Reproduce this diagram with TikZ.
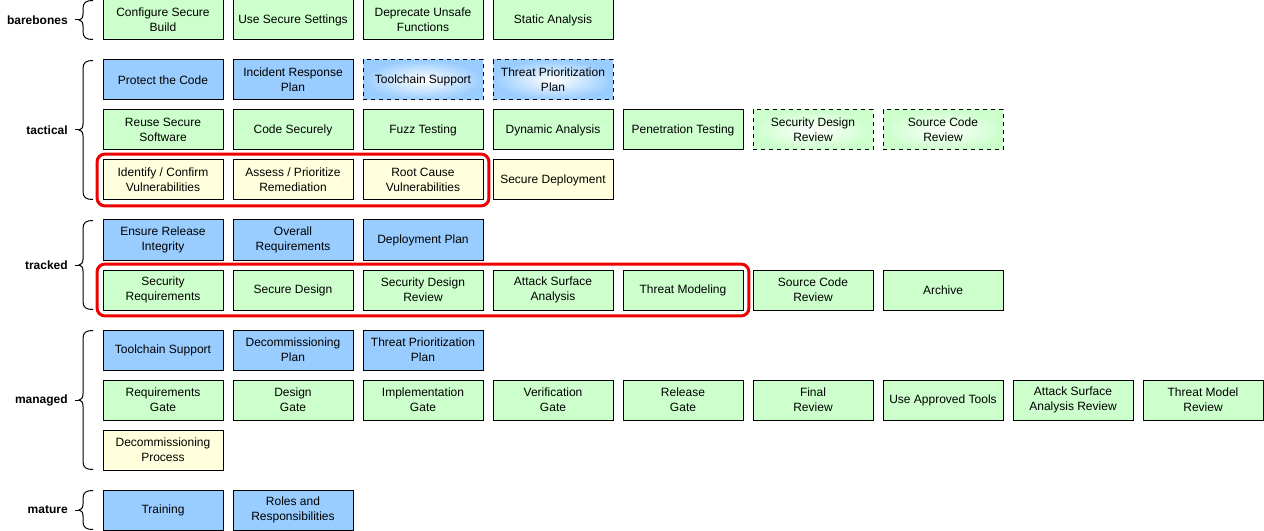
\documentclass[tikz,border=0pt]{standalone}
\usepackage{fontspec}
\setmainfont{Liberation Sans}
\usetikzlibrary{fit}
\definecolor{gfill}{HTML}{CCFFCC}
\definecolor{bfill}{HTML}{99CCFF}
\definecolor{yfill}{HTML}{FFFFDD}
\definecolor{redline}{HTML}{EE0000}
\tikzset{
  x=0.75pt, y=-0.75pt,
  task/.style={draw=black, line width=0.75pt, minimum width=90pt, minimum height=30pt,
    inner sep=0pt, align=center, font=\fontsize{9}{11.25}\selectfont},
  green/.style={task, fill=gfill},
  blue/.style={task, fill=bfill},
  yellow/.style={task, fill=yfill},
  bluegrad/.style={task, dashed, inner color=white, outer color=bfill},
  greengrad/.style={task, dashed, inner color=white, outer color=gfill},
  level/.style={anchor=east, inner xsep=5.25pt, inner ysep=0pt, font=\fontsize{9}{11.25}\selectfont\bfseries},
  bracket/.style={draw=black, line width=0.75pt},
  group/.style={draw=redline, line width=2.25pt, rounded corners=6pt, inner sep=4.1pt},
}
% curly bracket spanning #1..#2 with its point at #3
\newcommand\curly[3]{%
  \draw[bracket] (93,#1) .. controls (86,#1) and (83,#1+2) .. (83,#1+8) -- (83,#3-6)
    .. controls (83,#3-2) and (81,#3) .. (79,#3)
    .. controls (81,#3) and (83,#3+2) .. (83,#3+6) -- (83,#2-8)
    .. controls (83,#2-2) and (86,#2) .. (93,#2);}
\begin{document}
\begin{tikzpicture}
\useasboundingbox (0,0) rectangle (1264,531);

% level labels, brackets and their ticks
\node[level] (lbare) at (75,20) {barebones};
\node[level] (ltact) at (75,130) {tactical};
\node[level] (ltrack) at (75,265) {tracked};
\node[level] (lman) at (75,400) {managed};
\node[level] (lmat) at (75,510) {mature};
\curly{0.5}{39.5}{20}
\curly{60.5}{199.5}{130}
\curly{220.5}{309.5}{265}
\curly{330.5}{469.5}{400}
\curly{490.5}{529.5}{510}
\coordinate (tbare) at (80,20);
\coordinate (ttact) at (80,130);
\coordinate (ttrack) at (80,265);
\coordinate (tman) at (80,400);
\coordinate (tmat) at (80,510);
\draw[bracket] (lbare.east) -- (tbare);
\draw[bracket] (ltact.east) -- (ttact);
\draw[bracket] (ltrack.east) -- (ttrack);
\draw[bracket] (lman.east) -- (tman);
\draw[bracket] (lmat.east) -- (tmat);

% barebones
\node[green] (b1) at (163,20) {Configure Secure\\Build};
\node[green] (b2) at (293,20) {Use Secure Settings};
\node[green] (b3) at (423,20) {Deprecate Unsafe\\Functions};
\node[green] (b4) at (553,20) {Static Analysis};

% tactical
\node[blue] (ta1) at (163,80) {Protect the Code};
\node[blue] (ta2) at (293,80) {Incident Response\\Plan};
\node[bluegrad] (ta3) at (423,80) {Toolchain Support};
\node[bluegrad] (ta4) at (553,80) {Threat Prioritization\\Plan};

\node[green] (tb1) at (163,130) {Reuse Secure\\Software};
\node[green] (tb2) at (293,130) {Code Securely};
\node[green] (tb3) at (423,130) {Fuzz Testing};
\node[green] (tb4) at (553,130) {Dynamic Analysis};
\node[green] (tb5) at (683,130) {Penetration Testing};
\node[greengrad] (tb6) at (813,130) {Security Design\\Review};
\node[greengrad] (tb7) at (943,130) {Source Code\\Review};

\node[yellow] (tc1) at (163,180) {Identify / Confirm\\Vulnerabilities};
\node[yellow] (tc2) at (293,180) {Assess / Prioritize\\Remediation};
\node[yellow] (tc3) at (423,180) {Root Cause\\Vulnerabilities};
\node[yellow] (tc4) at (553,180) {Secure Deployment};

% tracked
\node[blue] (ra1) at (163,240) {Ensure Release\\Integrity};
\node[blue] (ra2) at (293,240) {Overall\\Requirements};
\node[blue] (ra3) at (423,240) {Deployment Plan};

\node[green] (rb1) at (163,290) {Security\\Requirements};
\node[green] (rb2) at (293,290) {Secure Design};
\node[green] (rb3) at (423,290) {Security Design\\Review};
\node[green] (rb4) at (553,290) {Attack Surface\\Analysis};
\node[green] (rb5) at (683,290) {Threat Modeling};
\node[green] (rb6) at (813,290) {Source Code\\Review};
\node[green] (rb7) at (943,290) {Archive};

% managed
\node[blue] (ma1) at (163,350) {Toolchain Support};
\node[blue] (ma2) at (293,350) {Decommissioning\\Plan};
\node[blue] (ma3) at (423,350) {Threat Prioritization\\Plan};

\node[green] (mb1) at (163,400) {Requirements\\Gate};
\node[green] (mb2) at (293,400) {Design\\Gate};
\node[green] (mb3) at (423,400) {Implementation\\Gate};
\node[green] (mb4) at (553,400) {Verification\\Gate};
\node[green] (mb5) at (683,400) {Release\\Gate};
\node[green] (mb6) at (813,400) {Final\\Review};
\node[green] (mb7) at (943,400) {Use Approved Tools};
\node[green] (mb8) at (1073,400) {Attack Surface\\Analysis Review};
\node[green] (mb9) at (1203,400) {Threat Model\\Review};

\node[yellow] (mc1) at (163,450) {Decommissioning\\Process};

% mature
\node[blue] (ua1) at (163,510) {Training};
\node[blue] (ua2) at (293,510) {Roles and\\Responsibilities};

% highlighted groups
\node[group, fit=(tc1)(tc3)] (gtact) {};
\node[group, fit=(rb1)(rb5)] (gtrack) {};
\end{tikzpicture}
\end{document}
